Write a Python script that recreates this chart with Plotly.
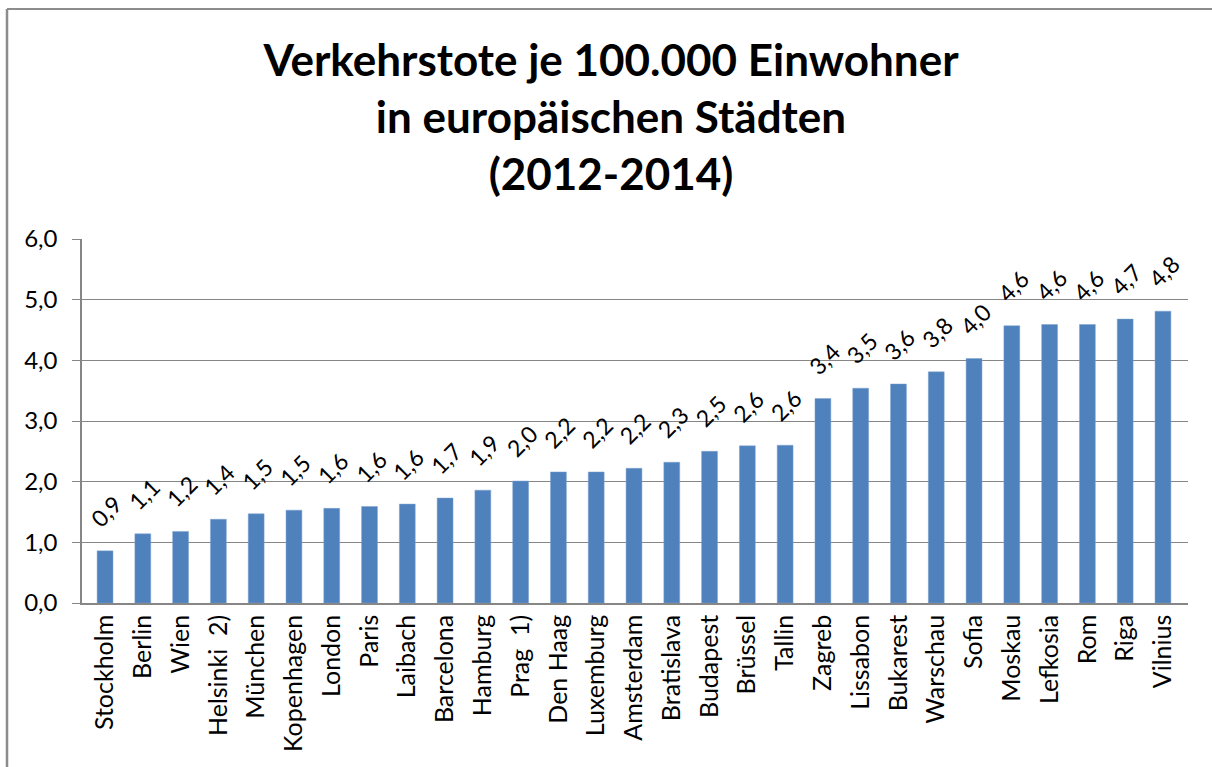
import plotly.graph_objects as go

cities = ["Stockholm", "Berlin", "Wien", "Helsinki  2)", "München", "Kopenhagen", "London",
          "Paris", "Laibach", "Barcelona", "Hamburg", "Prag  1)", "Den Haag", "Luxemburg",
          "Amsterdam", "Bratislava", "Budapest", "Brüssel", "Tallin", "Zagreb", "Lissabon",
          "Bukarest", "Warschau", "Sofia", "Moskau", "Lefkosia", "Rom", "Riga", "Vilnius"]
values = [0.86, 1.14, 1.18, 1.38, 1.47, 1.53, 1.56, 1.59, 1.63, 1.73, 1.86, 2.01, 2.16, 2.16,
          2.22, 2.32, 2.50, 2.59, 2.60, 3.37, 3.54, 3.61, 3.81, 4.03, 4.57, 4.59, 4.59, 4.68, 4.81]
y_ticks = [0, 1, 2, 3, 4, 5, 6]

FONT = "Lato"
GRAY = "#868686"

fig = go.Figure(go.Bar(
    x=cities, y=values,
    marker=dict(color="#4F81BD", line=dict(color="#7FA3D0", width=0.5)),
    hoverinfo="x+y",
))

for c, v in zip(cities, values):
    fig.add_annotation(
        x=c, y=v, xref="x", yref="y",
        text=f"{v:.1f}".replace(".", ","),
        textangle=-45, showarrow=False,
        xanchor="center", yanchor="middle",
        xshift=1, yshift=40,
        font=dict(family=FONT, size=23, color="#000000"),
    )

L, R, T, B = 82, 24, 239, 164
W, H = 1212, 767
pw, ph = W - L - R, H - T - B

def px(x):
    return (x - L) / pw

def py(y):
    return (H - B - y) / ph

fig.update_layout(
    width=W, height=H,
    margin=dict(l=L, r=R, t=T, b=B),
    paper_bgcolor="white", plot_bgcolor="white",
    separators=",.",
    showlegend=False,
    bargap=0.58,
    title=dict(
        text="<b>Verkehrstote je 100.000 Einwohner<br>in europäischen Städten<br>(2012-2014)</b>",
        x=(611 - L) / pw, xref="paper", xanchor="center",
        y=1 - 76 / H, yref="container", yanchor="top",
        font=dict(family=FONT, size=44, color="#000000"),
    ),
    xaxis=dict(
        tickangle=-90, tickfont=dict(family=FONT, size=25, color="#000000"),
        showline=True, linecolor=GRAY, linewidth=1.5, showgrid=False,
        ticks="", ticklen=0,
    ),
    yaxis=dict(
        range=[0, 6], tickvals=y_ticks, tickformat=".1f",
        tickfont=dict(family=FONT, size=24, color="#000000"),
        showline=True, linecolor=GRAY, linewidth=1.5,
        showgrid=True, gridcolor=GRAY, gridwidth=1,
        ticks="outside", ticklen=8, tickcolor=GRAY,
        ticklabelstandoff=10,
        zeroline=False,
    ),
    shapes=[
        dict(type="line", xref="paper", yref="paper", x0=px(7), x1=px(1300), y0=py(9), y1=py(9),
             line=dict(color="#8C8C8C", width=2)),
        dict(type="line", xref="paper", yref="paper", x0=px(7), x1=px(7), y0=py(9), y1=py(800),
             line=dict(color="#8C8C8C", width=2.5)),
    ],
)

fig.write_html("out.html", config={"displayModeBar": False},
               post_script="document.body.style.margin='0px';")
